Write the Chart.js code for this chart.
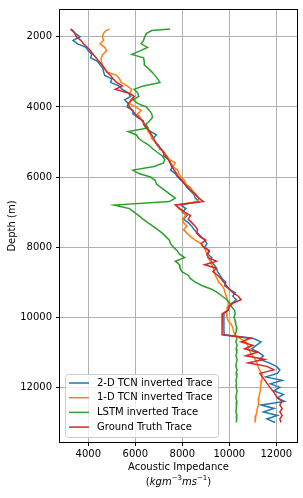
<!DOCTYPE html>
<html>
<head>
<meta charset="utf-8">
<script src="https://cdn.jsdelivr.net/npm/chart.js@4.4.0/dist/chart.umd.min.js"></script>
<style>
  body { margin: 0; background: #fff; }
  canvas { display: block; }
</style>
</head>
<body>
<canvas id="myChart" width="303" height="498"></canvas>
<script>
// depth samples (m), shared by all traces
const depth = [
  1780, 1820, 1900, 2000, 2100, 2200, 2300, 2400, 2500, 2600,
  2700, 2800, 2900, 3000, 3100, 3200, 3300, 3400, 3500, 3600,
  3700, 3800, 3900, 4000, 4100, 4200, 4300, 4400, 4500, 4600,
  4700, 4800, 4900, 5000, 5100, 5200, 5300, 5400, 5500, 5600,
  5700, 5800, 5900, 6000, 6100, 6200, 6300, 6400, 6500, 6600,
  6700, 6800, 6900, 7000, 7100, 7200, 7300, 7400, 7500, 7600,
  7700, 7800, 7900, 8000, 8100, 8200, 8300, 8400, 8500, 8600,
  8700, 8800, 8900, 9000, 9100, 9200, 9300, 9400, 9500, 9600,
  9700, 9800, 9900, 10000, 10100, 10200, 10300, 10400, 10500, 10600,
  10700, 10800, 10900, 11000, 11100, 11200, 11300, 11400, 11500, 11600,
  11700, 11800, 11900, 12000, 12100, 12200, 12300, 12400, 12500, 12600,
  12700, 12800, 12900, 13000
];

const tcn2d = [
  3250, 3300, 3450, 3650, 3350, 3550, 3900, 4000, 4150, 4100,
  4400, 4500, 4620, 4650, 4700, 5000, 4950, 5300, 5450, 5700,
  5800, 5550, 5700, 5650, 5900, 5900, 6100, 6350, 6350, 6450,
  6650, 6900, 6750, 6850, 7000, 7050, 7250, 7200, 7450, 7500,
  7600, 7500, 7700, 7800, 7950, 8100, 8200, 8350, 8500, 8550,
  8700, 7950, 8150, 8000, 8200, 8050, 8250, 8400, 8500, 8650,
  8800, 8950, 9050, 8950, 9150, 9100, 9250, 9200, 9350, 9450,
  9500, 9600, 9700, 9850, 9800, 10000, 10250, 10150, 10300, 10100,
  9950, 9950, 9770, 9770, 9770, 9770, 9770, 9770, 9780, 11000,
  11350, 11150, 10950, 11250, 11450, 11300, 11700, 12000, 12150, 12050,
  11550, 12250, 11750, 12150, 11900, 12300, 12050, 12350, 11350, 11900,
  11450, 12050, 11600, 11950
];

const tcn1d = [
  4900, 4750, 4650, 4600, 4650, 4500, 4700, 4780, 4620, 4550,
  4550, 4600, 4700, 4800, 5200, 5330, 5400, 5650, 5850, 5780,
  5950, 5800, 5750, 6000, 6250, 6100, 6200, 6300, 6400, 6480,
  6550, 6650, 6700, 6850, 6950, 7100, 7200, 7350, 7450, 7700,
  7600, 7800, 7850, 7950, 8100, 8150, 8350, 8450, 8600, 8700,
  8650, 7750, 7850, 8050, 8150, 8000, 8050, 8200, 8050, 8200,
  8350, 8550, 8800, 8900, 9000, 9050, 9100, 9180, 9250, 9320,
  9360, 9400, 9480, 9550, 9700, 9780, 9820, 9870, 9920, 9960,
  9940, 9910, 9880, 9900, 9950, 10080, 10150, 10180, 10230, 10450,
  10700, 10780, 10830, 10890, 11000, 11100, 11170, 11220, 11280, 11380,
  11400, 11390, 11350, 11330, 11320, 11280, 11250, 11250, 11230, 11190,
  11170, 11130, 11100, 11100
];

const lstm = [
  7480, 6700, 6480, 6400, 6350, 6250, 6520, 6200, 5850, 6350,
  6380, 6380, 6550, 6700, 6830, 6950, 7050, 6350, 5950, 6100,
  6150, 5900, 6100, 6470, 6600, 6700, 6730, 6600, 6450, 6550,
  5700, 6050, 6150, 6350, 6600, 6750, 6950, 7150, 7250, 7200,
  6800, 5900, 6150, 6650, 6850, 6900, 7100, 7300, 7500, 7700,
  7450, 5100, 5750, 5950, 6150, 6330, 6530, 6750, 6950, 7150,
  7300, 7450, 7500, 7620, 7780, 7880, 8100, 7700, 7880, 7900,
  7980, 8250, 8350, 8550, 8850, 9250, 9500, 9700, 9900, 10030,
  10100, 10220, 10250, 10200, 10250, 10270, 10320, 10300, 10250, 10320,
  10280, 10330, 10290, 10320, 10280, 10330, 10300, 10280, 10330, 10290,
  10320, 10280, 10310, 10290, 10330, 10300, 10280, 10320, 10290, 10310,
  10280, 10320, 10300, 10310
];

const truth = [
  3250, 3350, 3420, 3500, 3680, 3800, 3950, 4100, 4200, 4330,
  4450, 4580, 4680, 4780, 4950, 5050, 5200, 5450, 5150, 5700,
  5950, 5850, 5700, 5750, 5870, 6000, 6150, 6300, 6400, 6500,
  6600, 6700, 6780, 6850, 6950, 7100, 7200, 7300, 7400, 7480,
  7550, 7650, 7750, 7850, 8000, 8100, 8250, 8400, 8550, 8700,
  8900, 7700, 7900, 8100, 8350, 8250, 8400, 8550, 8650, 8600,
  8750, 9000, 8800, 8900, 9150, 9050, 9100, 9450, 8950, 9450,
  9300, 9500, 9650, 9770, 9880, 10000, 10150, 10380, 10500, 10150,
  10000, 9950, 9700, 9690, 9690, 9690, 9690, 9690, 9700, 10900,
  10500, 11000, 10650, 11200, 10700, 11500, 10800, 11600, 11900, 11300,
  11400, 11520, 11620, 11730, 11850, 11950, 12050, 12250, 12150, 12250,
  12150, 12250, 12150, 12200
];

const seriesNames = ['2-D TCN inverted Trace', '1-D TCN inverted Trace', 'LSTM inverted Trace', 'Ground Truth Trace'];
const seriesColors = ['#1f77b4', '#ff7f0e', '#2ca02c', '#d62728'];
const xTicks = [4000, 6000, 8000, 10000, 12000];
const yTicks = [2000, 4000, 6000, 8000, 10000, 12000];

const FONT = 'DejaVu Sans';

function toPoints(values) {
    return values.map((v, i) => ({x: v, y: depth[i]}))
}

const datasets = [tcn2d, tcn1d, lstm, truth].map((vals, i) => ({
    label: seriesNames[i],
    data: toPoints(vals),
    showLine: true,
    borderColor: seriesColors[i],
    backgroundColor: seriesColors[i],
    borderWidth: 1.5,
    pointRadius: 0,
    fill: false,
    tension: 0,
    order: 3 - i
}))

// frame, axis titles and the legend box inside the plot
const extras = {
    id: 'extras',
    afterDatasetsDraw(chart) {
        const {ctx, chartArea: a} = chart
        ctx.save()
        ctx.strokeStyle = '#000'
        ctx.lineWidth = 1
        ctx.strokeRect(Math.round(a.left) - 0.5, Math.round(a.top) - 0.5,
            Math.round(a.right - a.left) + 1, Math.round(a.bottom - a.top) + 1)
        ctx.restore()
    },
    afterDraw(chart) {
        const {ctx, chartArea: a} = chart
        ctx.save()
        ctx.fillStyle = '#000'
        ctx.textBaseline = 'middle'
        ctx.textAlign = 'center'
        ctx.font = '10px ' + FONT
        const cx = (a.left + a.right) / 2
        ctx.fillText('Acoustic Impedance', cx, 467)

        // (kg m^-3 m s^-1) in math style
        const runs = [
            {t: '(', f: '10px ' + FONT, dy: 0},
            {t: 'kgm', f: 'italic 10px ' + FONT, dy: 0},
            {t: '\u22123', f: '7px ' + FONT, dy: -4},
            {t: 'ms', f: 'italic 10px ' + FONT, dy: 0},
            {t: '\u22121', f: '7px ' + FONT, dy: -4},
            {t: ')', f: '10px ' + FONT, dy: 0}
        ]
        let total = 0
        runs.forEach(r => { ctx.font = r.f; r.w = ctx.measureText(r.t).width; total += r.w })
        let x = cx - total / 2
        ctx.textAlign = 'left'
        runs.forEach(r => { ctx.font = r.f; ctx.fillText(r.t, x, 482 + r.dy); x += r.w })

        ctx.save()
        ctx.translate(12, (a.top + a.bottom) / 2)
        ctx.rotate(-Math.PI / 2)
        ctx.textAlign = 'center'
        ctx.font = '10px ' + FONT
        ctx.fillText('Depth (m)', 0, 0)
        ctx.restore()

        // legend
        const lx = a.left + 5, ly = 374, lw = 153, lh = 63
        ctx.beginPath()
        ctx.roundRect(lx + 0.5, ly + 0.5, lw, lh, 3)
        ctx.fillStyle = 'rgba(255,255,255,0.8)'
        ctx.fill()
        ctx.strokeStyle = '#cccccc'
        ctx.lineWidth = 1
        ctx.stroke()
        ctx.font = '10px ' + FONT
        ctx.textAlign = 'left'
        seriesNames.forEach((name, i) => {
            const y = ly + 9 + i * 14.7
            ctx.strokeStyle = seriesColors[i]
            ctx.lineWidth = 1.5
            ctx.beginPath()
            ctx.moveTo(lx + 4, y)
            ctx.lineTo(lx + 24, y)
            ctx.stroke()
            ctx.fillStyle = '#000'
            ctx.fillText(name, lx + 32, y)
        })
        ctx.restore()
    }
}

const tickFont = {family: FONT, size: 10}

new Chart(document.getElementById('myChart'), {
    type: 'scatter',
    data: {datasets: datasets},
    options: {
        responsive: false,
        animation: false,
        layout: {padding: {top: 7, right: 6, left: 0, bottom: 0}},
        plugins: {legend: {display: false}, tooltip: {enabled: false}},
        scales: {
            x: {
                type: 'linear',
                min: 2796,
                max: 12880,
                afterFit: s => { s.height = 56 },
                afterBuildTicks: s => { s.ticks = xTicks.map(v => ({value: v})) },
                grid: {color: '#b0b0b0', lineWidth: 1, tickColor: '#000', tickLength: 4, tickWidth: 1},
                border: {display: false},
                ticks: {font: tickFont, color: '#000', padding: 2, maxRotation: 0, callback: v => String(v)}
            },
            y: {
                type: 'linear',
                reverse: true,
                min: 1235,
                max: 13558,
                afterFit: s => { s.width = 60 },
                afterBuildTicks: s => { s.ticks = yTicks.map(v => ({value: v})) },
                grid: {color: '#b0b0b0', lineWidth: 1, tickColor: '#000', tickLength: 4, tickWidth: 1},
                border: {display: false},
                ticks: {font: tickFont, color: '#000', padding: 4, callback: v => String(v)}
            }
        }
    },
    plugins: [extras]
});
</script>
</body>
</html>
